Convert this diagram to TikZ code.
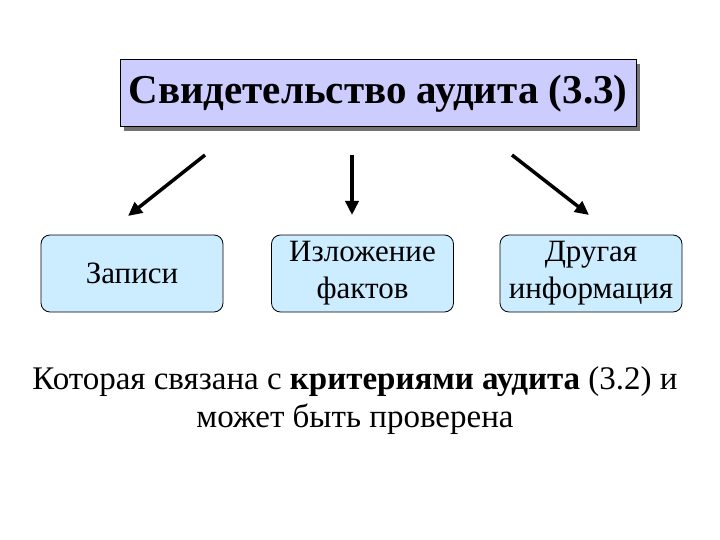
\documentclass[tikz,border=0pt]{standalone}
\usepackage{fontspec}
\setmainfont{Liberation Serif}
\usetikzlibrary{arrows.meta,shadows}
\definecolor{titlefill}{HTML}{CCCCFF}
\definecolor{boxfill}{HTML}{CCECFF}
\tikzset{
  titlebox/.style={draw=black, line width=1pt, fill=titlefill, minimum width=516pt, minimum height=67pt,
    drop shadow={shadow xshift=4pt, shadow yshift=-4pt, fill=black!55, opacity=1}, inner sep=0pt,
    font=\fontsize{41}{46}\selectfont\bfseries},
  itembox/.style={draw=black, line width=0.8pt, fill=boxfill, rounded corners=9pt, minimum width=182pt,
    minimum height=77pt, inner sep=0pt, align=center, font=\fontsize{31}{37}\selectfont},
  bigarrow/.style={line width=3.5pt, -{Triangle[length=14pt,width=13pt]}},
  bodytext/.style={align=center, font=\fontsize{33}{38}\selectfont, inner sep=0pt}
}
\begin{document}
\begin{tikzpicture}[x=1pt,y=-1pt]
\useasboundingbox (0,0) rectangle (720,540);
\node[titlebox] (title) at (378,93.5) {Свидетельство аудита (3.3)};
\node[itembox] (rec) at (132,273.5) {Записи};
\node[itembox] (fact) at (362.5,273.5) {Изложение\\фактов};
\node[itembox] (other) at (591,273.5) {Другая\\информация};
\coordinate (a1s) at (205,155);
\coordinate (a1e) at (128,216);
\coordinate (a2s) at (352,155);
\coordinate (a2e) at (352,215);
\coordinate (a3s) at (512,155);
\coordinate (a3e) at (589,215);
\draw[bigarrow] (a1s) -- (a1e);
\draw[bigarrow] (a2s) -- (a2e);
\draw[bigarrow] (a3s) -- (a3e);
\node[bodytext] (note) at (355,401) {Которая связана с \textbf{критериями аудита} (3.2) и\\может быть проверена};
\end{tikzpicture}
\end{document}
